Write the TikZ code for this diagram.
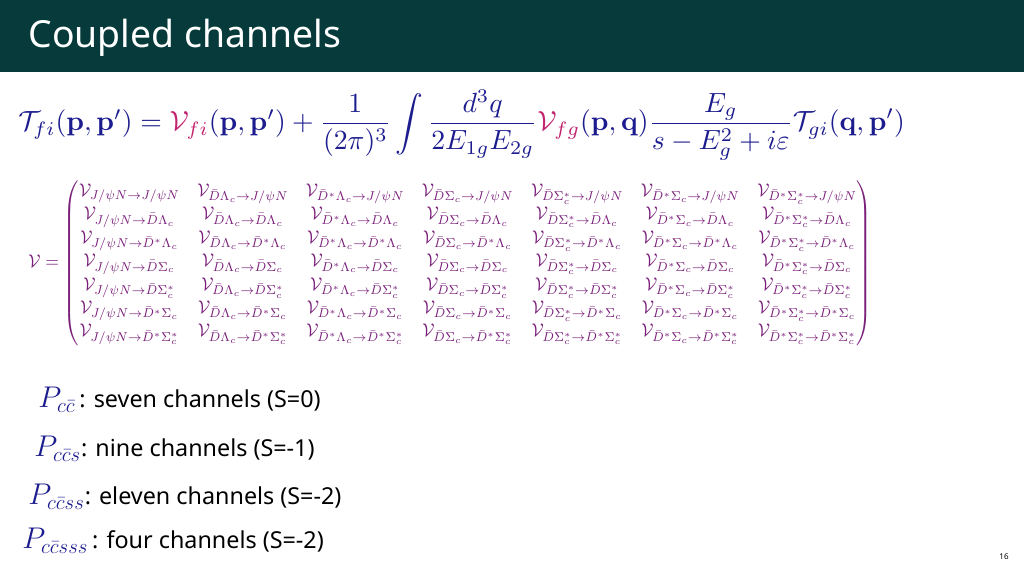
\documentclass[tikz,border=0pt]{standalone}
\usepackage{amsmath,amssymb,graphicx}
\usepackage[no-math]{fontspec}
\setmainfont{Noto Sans}
\definecolor{bar}{HTML}{073B3B}
\definecolor{navy}{HTML}{1C1C8E}
\definecolor{mag}{HTML}{C2236F}
\definecolor{purp}{HTML}{7A1F7A}
\newcommand\cA{J/\psi N}
\newcommand\cB{\bar D\Lambda_c}
\newcommand\cC{\bar D^*\Lambda_c}
\newcommand\cD{\bar D\Sigma_c}
\newcommand\cE{\bar D\Sigma_c^*}
\newcommand\cF{\bar D^*\Sigma_c}
\newcommand\cG{\bar D^*\Sigma_c^*}
\newcommand\vrow[1]{\mathcal V_{\cA\to #1}&\mathcal V_{\cB\to #1}&\mathcal V_{\cC\to #1}&\mathcal V_{\cD\to #1}&\mathcal V_{\cE\to #1}&\mathcal V_{\cF\to #1}&\mathcal V_{\cG\to #1}}
\newcommand\bigP[1]{\color{navy}\scalebox{1.3}{$P_{#1}$}}
\tikzset{lbl/.style={anchor=west,inner sep=0pt,font=\fontsize{17.5}{20}\selectfont}}
\begin{document}
\begin{tikzpicture}[x=0.75pt,y=-0.75pt]
\useasboundingbox (0,0) rectangle (1024,576);
\fill[bar] (0,0) rectangle (1024,72);
\node[anchor=west,text=white,font=\fontsize{28}{32}\selectfont] (title) at (24,38) {Coupled channels};
\node[anchor=west,inner sep=0pt,text=navy] (eq) at (18,125) {\resizebox{665pt}{!}{$\mathcal{T}_{fi}(\mathbf p,\mathbf p')=\color{mag}\mathcal{V}_{fi}\color{navy}(\mathbf p,\mathbf p')+\dfrac{1}{(2\pi)^3}\displaystyle\int\frac{d^3q}{2E_{1g}E_{2g}}\color{mag}\mathcal{V}_{fg}\color{navy}(\mathbf p,\mathbf q)\frac{E_g}{s-E_g^2+i\varepsilon}\mathcal{T}_{gi}(\mathbf q,\mathbf p')$}};
\node[anchor=west,inner sep=0pt,text=purp] (mat) at (28,263) {\resizebox*{633pt}{124pt}{$\mathcal V=\begin{pmatrix}\vrow{\cA}\\ \vrow{\cB}\\ \vrow{\cC}\\ \vrow{\cD}\\ \vrow{\cE}\\ \vrow{\cF}\\ \vrow{\cG}\end{pmatrix}$}};
\node[lbl] (l1) at (38,400) {\bigP{c\bar c}\color{black}\,: seven channels (S=0)};
\node[lbl] (l2) at (34,449) {\bigP{c\bar cs}\color{black}: nine channels (S=-1)};
\node[lbl] (l3) at (28,497) {\bigP{c\bar css}\color{black}: eleven channels (S=-2)};
\node[lbl] (l4) at (22,541) {\bigP{c\bar csss}\color{black}\,: four channels (S=-2)};
\node[font=\fontsize{6}{7}\selectfont] (pg) at (1004,557) {16};
\end{tikzpicture}
\end{document}
